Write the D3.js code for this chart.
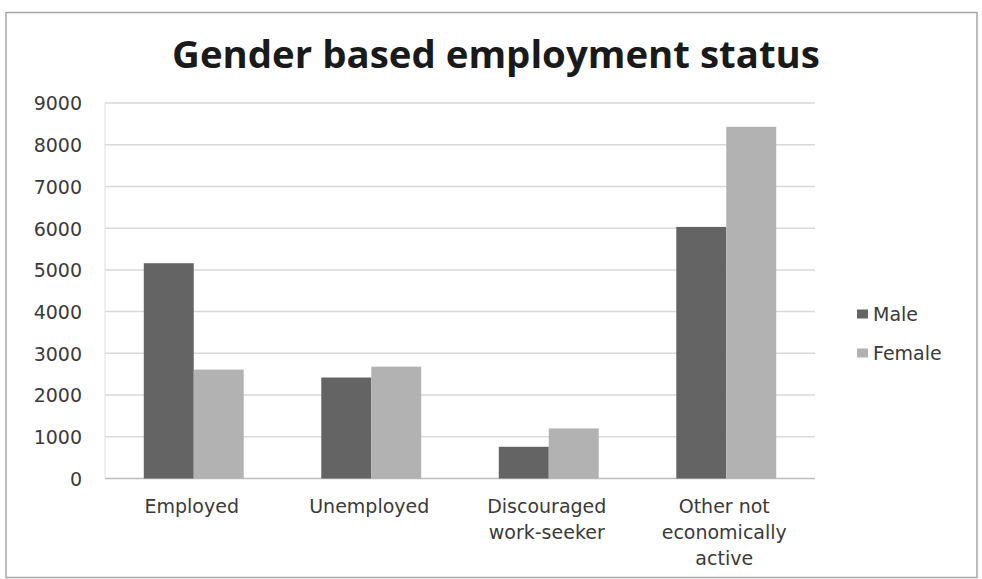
<!DOCTYPE html>
<html><head><meta charset="utf-8">
<script src="https://cdn.jsdelivr.net/npm/d3@7"></script>
<style>body{margin:0;background:#fff;}svg{display:block;}</style>
</head><body>
<script>
const categories = [["Employed"], ["Unemployed"], ["Discouraged", "work-seeker"], ["Other not", "economically", "active"]];
const seriesNames = ["Male", "Female"];
const maleValues = [5160, 2420, 760, 6030];
const femaleValues = [2610, 2680, 1200, 8430];
const yTicks = [0, 1000, 2000, 3000, 4000, 5000, 6000, 7000, 8000, 9000];
const colors = ["#646464", "#b2b2b2"];
const title = "Gender based employment status";

(function () {
const W = 982, H = 579;
const FONT = "'DejaVu Sans', Verdana, sans-serif";
const svg = d3.select("body").append("svg").attr("width", W).attr("height", H);

svg.append("rect").attr("x", 6).attr("y", 12.5).attr("width", 971).attr("height", 565)
  .attr("fill", "#fff").attr("stroke", "#a6a6a6").attr("stroke-width", 1.5);

const pL = 105, pR = 815, pT = 103, pB = 478.5;
const y = d3.scaleLinear().domain([0, 9000]).range([pB, pT]);
const x0 = d3.scaleBand().domain(d3.range(categories.length)).range([pL, pR])
  .paddingInner(0.437).paddingOuter(0.2185);
const x1 = d3.scaleBand().domain(seriesNames).range([0, x0.bandwidth()]);

const g = svg.append("g");
g.selectAll("line.grid").data(yTicks).enter().append("line")
  .attr("x1", pL).attr("x2", pR)
  .attr("y1", d => y(d)).attr("y2", d => y(d))
  .attr("stroke", d => d === 0 ? "#bdbdbd" : "#d9d9d9").attr("stroke-width", 1.5);
g.append("line").attr("x1", pL).attr("x2", pL).attr("y1", pT).attr("y2", pB)
  .attr("stroke", "#e0e0e0").attr("stroke-width", 1);

const yAxis = svg.append("g").attr("transform", `translate(${pL - 23},0)`)
  .call(d3.axisLeft(y).tickValues(yTicks).tickSize(0).tickPadding(0).tickFormat(d3.format("d")));
yAxis.select(".domain").remove();
yAxis.selectAll("text").attr("font-family", FONT)
  .attr("font-size", 19).attr("fill", "#3a3a3a").attr("dy", "0.36em");

const data = categories.map((c, i) => ({i, vals: [maleValues[i], femaleValues[i]]}));
const grp = svg.selectAll("g.cat").data(data).enter().append("g")
  .attr("transform", d => `translate(${x0(d.i)},0)`);
grp.selectAll("rect").data(d => d.vals.map((v, k) => ({k, v}))).enter().append("rect")
  .attr("x", d => x1(seriesNames[d.k])).attr("width", x1.bandwidth())
  .attr("y", d => y(d.v)).attr("height", d => y(0) - y(d.v))
  .attr("fill", d => colors[d.k]);

const xl = svg.append("g");
categories.forEach((lines, i) => {
  const cx = x0(i) + x0.bandwidth() / 2 - 2;
  const t = xl.append("text").attr("x", cx).attr("y", 513)
    .attr("text-anchor", "middle").attr("font-family", FONT)
    .attr("font-size", 19).attr("fill", "#3a3a3a");
  lines.forEach((ln, j) => t.append("tspan").attr("x", cx).attr("dy", j === 0 ? 0 : 26).text(ln));
});

const tt = svg.append("text").attr("x", 496).attr("y", 68).attr("text-anchor", "middle")
  .attr("font-family", "'Open Sans', sans-serif").attr("font-weight", "bold").attr("font-size", 30)
  .attr("fill", "#1a1a1a").text(title);
const tw = tt.node().getComputedTextLength();
tt.attr("font-size", 30 * 648 / tw);

const lg = svg.append("g");
seriesNames.forEach((s, k) => {
  const ly = 314 + k * 39;
  lg.append("rect").attr("x", 857).attr("y", ly - 4.5).attr("width", 11).attr("height", 9).attr("fill", colors[k]);
  lg.append("text").attr("x", 873).attr("y", ly + 6.5)
    .attr("font-family", FONT)
    .attr("font-size", 19).attr("fill", "#3a3a3a").text(s);
});
})();
</script>
</body></html>
